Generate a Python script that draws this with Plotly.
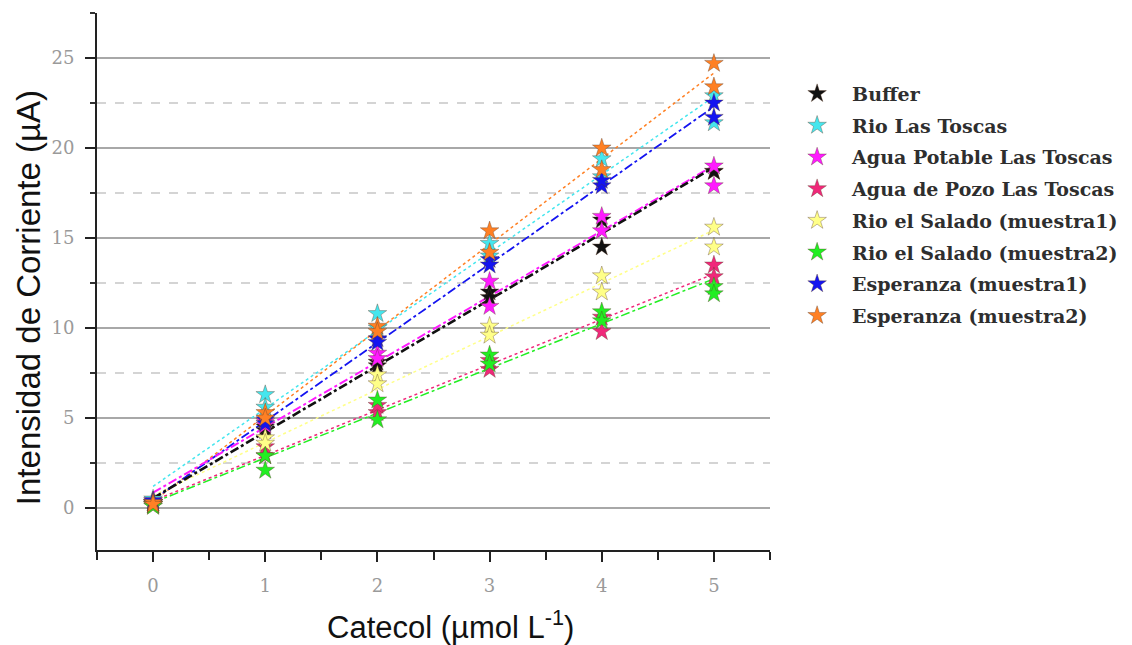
import numpy as np
import plotly.graph_objects as go

# ---- data (two replicate readings per concentration) ----
catecol = [0, 1, 2, 3, 4, 5]

series_names = [
    "Buffer",
    "Rio Las Toscas",
    "Agua Potable Las Toscas",
    "Agua de Pozo Las Toscas",
    "Rio el Salado (muestra1)",
    "Rio el Salado (muestra2)",
    "Esperanza (muestra1)",
    "Esperanza (muestra2)",
]

buffer_r1 = [0.3, 4.3, 7.9, 12.0, 16.0, 18.7]
buffer_r2 = [0.2, 4.5, 8.1, 11.7, 14.5, 18.7]

rio_toscas_r1 = [0.5, 6.3, 10.8, 14.7, 19.4, 22.9]
rio_toscas_r2 = [0.3, 5.6, 10.0, 14.0, 18.4, 21.4]

potable_r1 = [0.4, 4.6, 8.6, 12.6, 16.2, 19.0]
potable_r2 = [0.3, 4.8, 8.3, 11.2, 15.4, 17.9]

pozo_r1 = [0.2, 3.4, 5.3, 7.7, 9.8, 13.5]
pozo_r2 = [0.3, 2.9, 5.7, 8.2, 10.6, 12.85]

salado1_r1 = [0.1, 3.9, 7.4, 10.1, 12.9, 15.6]
salado1_r2 = [0.2, 3.6, 6.9, 9.6, 12.0, 14.5]

salado2_r1 = [0.2, 2.9, 6.0, 8.5, 10.9, 12.3]
salado2_r2 = [0.1, 2.1, 4.9, 8.0, 10.4, 11.9]

esperanza1_r1 = [0.3, 4.9, 9.4, 13.8, 17.9, 22.5]
esperanza1_r2 = [0.4, 4.7, 9.2, 13.5, 18.2, 21.7]

esperanza2_r1 = [0.3, 5.3, 10.1, 15.4, 20.0, 24.7]
esperanza2_r2 = [0.2, 5.0, 9.8, 14.2, 18.8, 23.4]

replicates = [
    (buffer_r1, buffer_r2),
    (rio_toscas_r1, rio_toscas_r2),
    (potable_r1, potable_r2),
    (pozo_r1, pozo_r2),
    (salado1_r1, salado1_r2),
    (salado2_r1, salado2_r2),
    (esperanza1_r1, esperanza1_r2),
    (esperanza2_r1, esperanza2_r2),
]

y_tick_vals = [0, 5, 10, 15, 20, 25]
x_tick_vals = [0, 1, 2, 3, 4, 5]

x_title = "Catecol (µmol L<sup>-1</sup>)"
y_title = "Intensidad de Corriente (µA)"

# ---- styles ----
colors = ["#111111", "#45e6ee", "#ff1aff", "#f0287a", "#ffff88",
          "#22ee22", "#1414f0", "#ff8024"]
line_dash = ["dashdot", "dot", "dashdot", "dot", "dot", "dashdot", "dashdot", "dot"]
line_width = [2.6, 1.5, 2.0, 1.5, 1.5, 1.5, 1.8, 1.5]

fig = go.Figure()

# fitted lines (drawn first so stars sit on top)
order_lines = [4, 3, 5, 1, 7, 6, 2, 0]
for i in order_lines:
    r1, r2 = replicates[i]
    xs = np.array(catecol + catecol, dtype=float)
    ys = np.array(r1 + r2, dtype=float)
    m, b = np.polyfit(xs, ys, 1)
    xl = np.array([catecol[0], catecol[-1]], dtype=float)
    fig.add_trace(go.Scatter(
        x=xl, y=m * xl + b, mode="lines",
        line=dict(color=colors[i], dash=line_dash[i], width=line_width[i]),
        showlegend=False, hoverinfo="skip",
    ))

# star markers
for i, name in enumerate(series_names):
    r1, r2 = replicates[i]
    fig.add_trace(go.Scatter(
        x=catecol + catecol, y=r1 + r2, mode="markers", name=name,
        legendgroup=name,
        marker=dict(symbol="star", size=14, color=colors[i],
                    line=dict(width=0.6, color="rgba(90,60,40,0.6)")),
    ))

axis_font = dict(family="DejaVu Serif", size=18, color="#9a9a9a")
title_font_family = "Liberation Sans"

fig.update_layout(
    width=1124, height=637,
    margin=dict(l=89, r=362, t=5, b=95),
    paper_bgcolor="white", plot_bgcolor="white",
    showlegend=True,
    legend=dict(
        x=1.018, y=0.885, xanchor="left", yanchor="top",
        font=dict(family="DejaVu Serif", size=19, color="#2e2e2e", weight="bold"),
        itemwidth=60, tracegroupgap=4, bgcolor="rgba(0,0,0,0)",
    ),
    xaxis=dict(
        range=[-0.5, 5.5], tickvals=x_tick_vals, automargin=False,
        ticks="outside", ticklen=10, tickwidth=2, tickcolor="#222",
        showline=True, linecolor="#222", linewidth=2,
        showgrid=False, zeroline=False,
        tickfont=axis_font, ticklabelstandoff=8,
        minor=dict(dtick=0.5, tick0=0, ticks="outside", ticklen=8,
                   tickwidth=2, tickcolor="#222", showgrid=False),
    ),
    yaxis=dict(
        range=[-2.33, 27.5], tickvals=y_tick_vals, automargin=False,
        ticks="outside", ticklen=10, tickwidth=2, tickcolor="#222",
        showline=True, linecolor="#222", linewidth=2,
        showgrid=True, gridcolor="#a8a8a8", gridwidth=2,
        zeroline=False,
        tickfont=axis_font, ticklabelstandoff=7,
        minor=dict(dtick=2.5, tick0=0, ticks="outside", ticklen=5,
                   tickwidth=2, tickcolor="#333333",
                   showgrid=True, gridcolor="#d4d4d4", gridwidth=1.5,
                   griddash="dash"),
    ),
    annotations=[
        dict(text=x_title, xref="paper", yref="paper", x=0.526, y=-0.14,
             xanchor="center", yanchor="middle", showarrow=False,
             font=dict(family=title_font_family, size=31, color="#111")),
        dict(text=y_title, xref="paper", yref="paper", x=-0.1025, y=0.469,
             xanchor="center", yanchor="middle", showarrow=False, textangle=-90,
             font=dict(family=title_font_family, size=33, color="#111")),
    ],
)

fig.write_html("out.html")
